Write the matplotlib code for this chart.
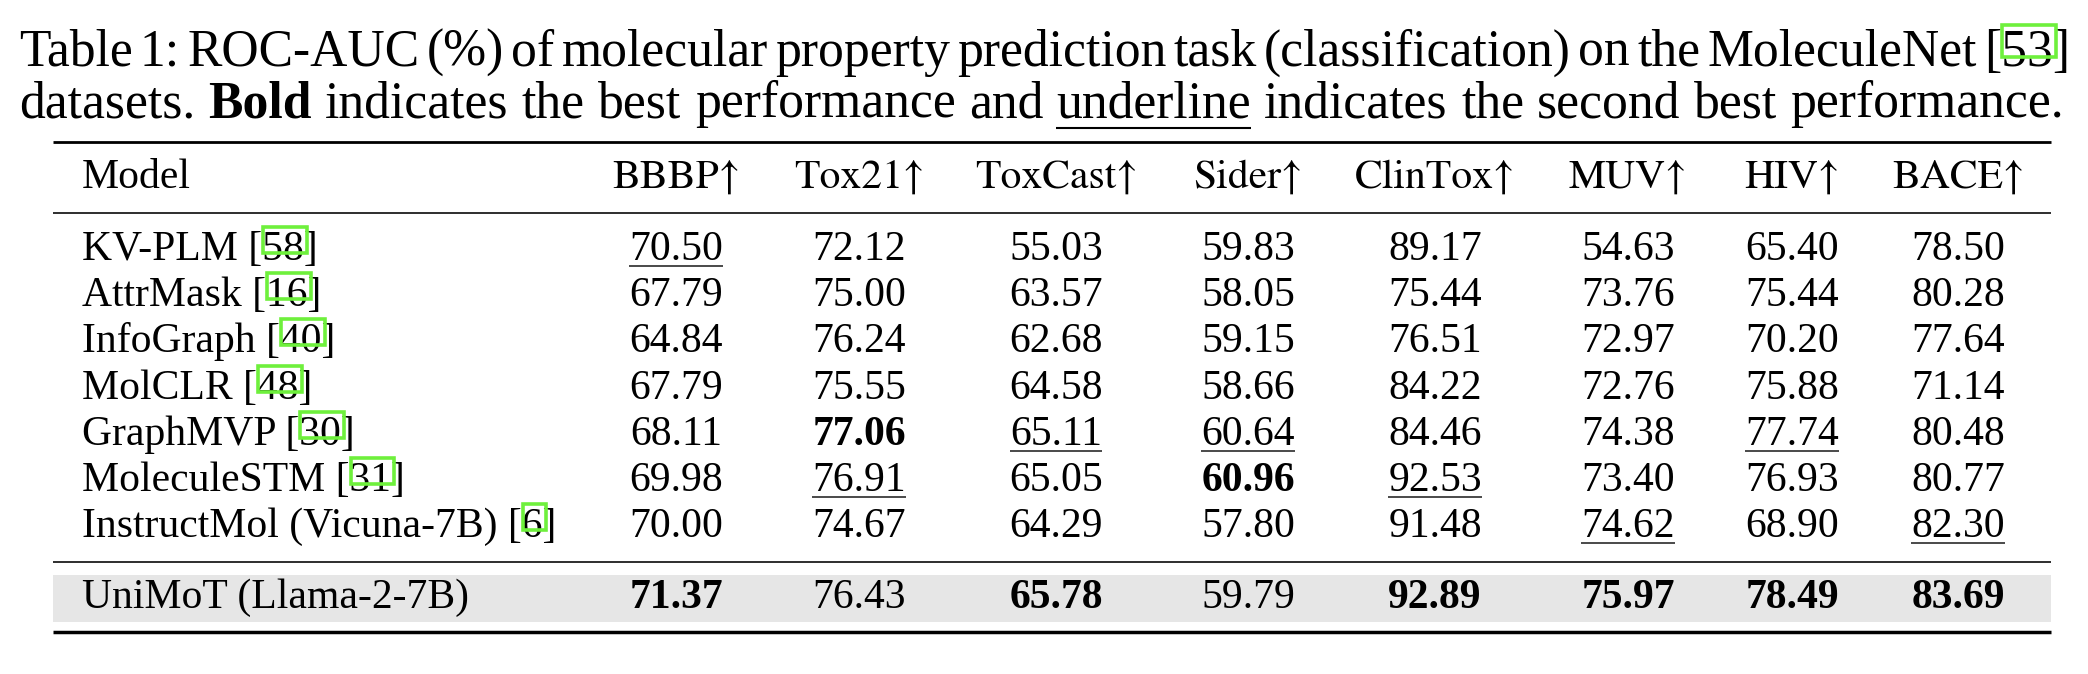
import matplotlib
matplotlib.use("Agg")
import matplotlib.pyplot as plt
from matplotlib.patches import Rectangle

W, H = 2088, 674
SERIF = ["Liberation Serif", "DejaVu Serif"]
STIX = ["STIXGeneral", "Liberation Serif"]
GREEN = "#6ef03c"
TITLE_PT = 37.2
TAB_PT = 30

# ---- data -----------------------------------------------------------------
datasets = ["BBBP", "Tox21", "ToxCast", "Sider", "ClinTox", "MUV", "HIV", "BACE"]
models = ["KV-PLM", "AttrMask", "InfoGraph", "MolCLR", "GraphMVP",
          "MoleculeSTM", "InstructMol (Vicuna-7B)"]
refs = ["58", "16", "40", "48", "30", "31", "6"]

kv_plm = [70.50, 72.12, 55.03, 59.83, 89.17, 54.63, 65.40, 78.50]
attrmask = [67.79, 75.00, 63.57, 58.05, 75.44, 73.76, 75.44, 80.28]
infograph = [64.84, 76.24, 62.68, 59.15, 76.51, 72.97, 70.20, 77.64]
molclr = [67.79, 75.55, 64.58, 58.66, 84.22, 72.76, 75.88, 71.14]
graphmvp = [68.11, 77.06, 65.11, 60.64, 84.46, 74.38, 77.74, 80.48]
moleculestm = [69.98, 76.91, 65.05, 60.96, 92.53, 73.40, 76.93, 80.77]
instructmol = [70.00, 74.67, 64.29, 57.80, 91.48, 74.62, 68.90, 82.30]

ours_name = "UniMoT (Llama-2-7B)"
ours = [71.37, 76.43, 65.78, 59.79, 92.89, 75.97, 78.49, 83.69]

baseline_scores = [kv_plm, attrmask, infograph, molclr, graphmvp,
                   moleculestm, instructmol]

title_line1 = ("Table 1: ROC-AUC (%) of molecular property prediction task "
               "(classification) on the MoleculeNet")
title_ref = "53"
title_line2 = [("datasets.", "normal", False), ("Bold", "bold", False),
               ("indicates", "normal", False), ("the", "normal", False),
               ("best", "normal", False), ("performance", "normal", False),
               ("and", "normal", False), ("underline", "normal", True),
               ("indicates", "normal", False), ("the", "normal", False),
               ("second", "normal", False), ("best", "normal", False),
               ("performance.", "normal", False)]

# ---- layout (pixels) ------------------------------------------------------
RULE_X0, RULE_X1 = 53, 2051
MODEL_X = 82
COL_X = [676, 859, 1056, 1248, 1435, 1628, 1792, 1958]
HEAD_Y = 188
ROW_Y0, ROW_STEP = 260, 46.2
OURS_Y = 608
TITLE_X0 = 19
TITLE_Y = [66, 117]
TITLE_X1 = [2070, 2064]

# best / second best per column
all_rows = baseline_scores + [ours]
best, second = [], []
for j in range(len(datasets)):
    ranked = sorted({r[j] for r in all_rows}, reverse=True)
    best.append(ranked[0])
    second.append(ranked[1])

fig = plt.figure(figsize=(W / 100, H / 100), dpi=100)
ax = fig.add_axes([0, 0, 1, 1])
ax.set_xlim(0, W)
ax.set_ylim(H, 0)
ax.axis("off")
renderer = fig.canvas.get_renderer()


def put(x, y, s, size, weight="normal", ha="left", family=SERIF):
    return ax.text(x, y, s, fontsize=size, fontweight=weight, family=family,
                   ha=ha, va="baseline", color="black")


def width(s, size, weight="normal"):
    t = put(0, 0, s, size, weight)
    w = t.get_window_extent(renderer).width
    t.remove()
    return w


def hline(y, lw, x0=RULE_X0, x1=RULE_X1, color="black"):
    ax.plot([x0, x1], [y, y], color=color, lw=lw, solid_capstyle="butt")


def cite_box(x0, x1, y, top, bottom):
    ax.add_patch(Rectangle((x0, y - top), x1 - x0, top - bottom, fill=False,
                           edgecolor=GREEN, lw=2.6, zorder=5))


def justify(words, x0, x1, y, size):
    widths = [width(w, size, wt) for w, wt, _ in words]
    gap = (x1 - x0 - sum(widths)) / (len(words) - 1)
    x = x0
    spans = []
    for (w, wt, ul), ww in zip(words, widths):
        put(x, y, w, size, wt)
        if ul:
            hline(y + 11, 1.5, x, x + ww)
        spans.append((x, x + ww))
        x += ww + gap
    return spans


# ---- caption --------------------------------------------------------------
line1 = [(w, "normal", False) for w in title_line1.split()]
line1.append((f"[{title_ref}]", "normal", False))
spans = justify(line1, TITLE_X0, TITLE_X1[0], TITLE_Y[0], TITLE_PT)
bx = spans[-1][0]
cite_box(bx + width("[", TITLE_PT) + 1, bx + width(f"[{title_ref}", TITLE_PT) + 3,
         TITLE_Y[0], 41, 9)
justify(title_line2, TITLE_X0, TITLE_X1[1], TITLE_Y[1], TITLE_PT)

# ---- table ----------------------------------------------------------------
ax.add_patch(Rectangle((RULE_X0, 575), RULE_X1 - RULE_X0, 47,
                       facecolor="#e6e6e6", edgecolor="none", zorder=0))
hline(142, 2.0)
hline(213, 1.15)
hline(562, 1.15)
hline(632, 2.5)

put(MODEL_X, HEAD_Y, "Model", TAB_PT)
for x, name in zip(COL_X, datasets):
    put(x, HEAD_Y, name + "\u2191", TAB_PT, ha="center", family=STIX)


def value_cell(x, y, v, j):
    wt = "bold" if v == best[j] else "normal"
    t = put(x, y, f"{v:.2f}", TAB_PT, wt, ha="center")
    if v == second[j]:
        bb = t.get_window_extent(renderer)
        hline(y + 6, 1.15, bb.x0, bb.x1, color="#222222")


for i, (name, ref, row) in enumerate(zip(models, refs, baseline_scores)):
    y = ROW_Y0 + ROW_STEP * i
    put(MODEL_X, y, f"{name} [{ref}]", TAB_PT)
    x0 = MODEL_X + width(f"{name} [", TAB_PT) + 1
    x1 = MODEL_X + width(f"{name} [{ref}", TAB_PT) + 3
    cite_box(x0, x1, y, 33, 7)
    for j, v in enumerate(row):
        value_cell(COL_X[j], y, v, j)

put(MODEL_X, OURS_Y, ours_name, TAB_PT)
for j, v in enumerate(ours):
    value_cell(COL_X[j], OURS_Y, v, j)

fig.savefig("out.png", dpi=100)
